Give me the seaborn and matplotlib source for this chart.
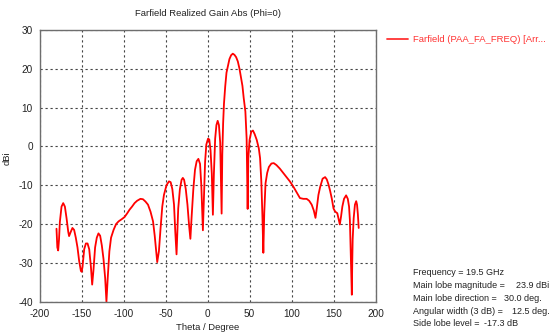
import matplotlib
matplotlib.use("Agg")
import matplotlib.pyplot as plt
import seaborn as sns
import pandas as pd

# Far-field realized gain cut at Phi = 0
theta_deg = [
    -180, -179, -178, -177, -176, -174, -172, -170, -168, -166, -165, -163, -161,
    -159, -157, -155, -153, -151, -150, -149, -147, -145, -143, -141, -139, -137.5,
    -136, -134, -132, -130, -128, -126, -124, -122, -120.5, -119, -117, -115, -112,
    -109, -106, -102, -99, -96, -93, -90, -87, -84, -80, -77, -74, -71, -68, -65,
    -63, -61, -60, -58, -56, -54, -52, -49, -46, -44, -42, -40, -38.5, -37, -36,
    -35, -33, -31, -29.5, -28, -26, -24, -22, -20.5, -19, -17, -15, -13, -11, -9,
    -7.5, -6.5, -5.6, -4.5, -3, -1.5, 0.5, 2, 3.5, 5, 6.3, 7.5, 9, 10.5, 12, 13.5,
    15, 16.7, 17.5, 18.5, 19.5, 21, 22.5, 24, 26, 28, 30, 32, 34, 36, 38, 40, 41.5,
    43, 45, 46.5, 47.7, 48.5, 50, 52, 54, 56, 58.5, 61, 62.5, 64, 65.3, 66.4, 67.5,
    69, 71, 73, 76, 78.8, 82, 86, 90, 94, 98, 102, 106, 110, 114, 118, 121, 124,
    126.5, 128.5, 130, 132, 134, 137, 140, 142, 144, 146, 148, 150, 152, 154.5, 156,
    157.5, 159, 160.5, 162.5, 165, 167, 168.5, 169.5, 170.3, 171.3, 171.8, 172.3,
    172.8, 174, 175.5, 177, 178, 179, 180,
]
gain_dbi = [
    -21.2, -26.0, -26.8, -24.0, -19.5, -15.5, -14.6, -15.5, -18.5, -22.0, -23.1, -22.0, -21.0,
    -21.5, -23.5, -26.0, -29.5, -32.0, -32.3, -31.0, -26.5, -25.0, -25.0, -26.5, -31.0, -35.6,
    -32.0, -26.0, -23.5, -22.4, -23.0, -25.5, -29.0, -34.0, -40.0, -34.0, -27.0, -23.5, -21.5,
    -20.0, -19.3, -18.7, -18.2, -17.3, -16.3, -15.5, -14.6, -14.0, -13.5, -13.6, -14.2, -15.0, -16.8, -19.3,
    -23.0, -27.5, -29.8, -27.0, -21.0, -15.5, -12.5, -10.0, -9.0, -9.2, -11.0, -15.0, -22.0, -27.8, -22.0,
    -16.0, -11.0, -8.6, -8.1, -8.6, -11.0, -15.0, -20.5, -23.8, -18.0, -11.0, -6.0, -3.8, -3.2, -4.5,
    -10.0, -16.0, -21.6, -14.0, -4.0, 0.5, 2.0, 1.8, -1.0, -7.0, -17.6, -7.0, 2.0, 5.5, 6.6, 5.5,
    1.0, -17.3, -2.0, 6.0, 11.0, 15.5, 19.0, 20.5, 22.5, 23.5, 23.9, 23.6, 23.0, 21.9, 20.0, 17.5, 15.6,
    12.5, 9.0, 2.0, -16.1, -3.0, 1.7, 3.8, 4.1, 3.2, 1.7, -0.5, -3.0, -9.0, -18.0, -27.4, -17.0,
    -9.5, -6.8, -5.3, -4.4, -4.3, -4.8, -5.7, -6.8, -7.9, -9.0, -10.3, -11.8, -13.3, -13.5, -13.5, -14.0, -15.0,
    -16.5, -18.4, -16.0, -12.5, -10.5, -8.3, -7.9, -8.5, -9.8, -11.5, -13.5, -16.0, -16.8, -17.2, -18.7,
    -20.1, -18.0, -15.5, -13.5, -12.6, -13.5, -15.5, -19.0, -25.7, -34.0, -38.2, -30.0,
    -24.0, -18.5, -15.0, -14.1, -15.0, -17.5, -21.0,
]

x_ticks = [-200, -150, -100, -50, 0, 50, 100, 150, 200]
y_ticks = [-40, -30, -20, -10, 0, 10, 20, 30]

series_label = "Farfield (PAA_FA_FREQ) [Arr..."
info_labels = ["Frequency = 19.5 GHz", "Main lobe magnitude =", "Main lobe direction =",
               "Angular width (3 dB) =", "Side lobe level ="]
info_values = ["", "23.9 dBi", "30.0 deg.", "12.5 deg.", "-17.3 dB"]

sns.set_style("white")
plt.rcParams["font.family"] = ["Liberation Sans", "DejaVu Sans"]
plt.rcParams["axes.unicode_minus"] = False

FS = 6.8
FS_INFO = 6.5
fig = plt.figure(figsize=(5.54, 3.34), dpi=100)
W, H = 554, 334
ax = fig.add_axes([39.7 / W, 1 - 301.7 / H, (375.5 - 39.7) / W, (301.7 - 30) / H])

df = pd.DataFrame({"theta": theta_deg, "gain": gain_dbi})
sns.lineplot(data=df, x="theta", y="gain", color="#ff0000", lw=1.3, ax=ax,
             estimator=None, sort=False, legend=False)

ax.set_xlim(-200, 200)
ax.set_ylim(-40, 30)
ax.set_xticks(x_ticks)
ax.set_yticks(y_ticks)
ax.tick_params(axis="both", labelsize=7.2, length=3, width=0.8, color="#555555",
               labelcolor="#222222", pad=2, direction="out")
ax.grid(True, ls=(0, (2, 2.5)), color="#444444", lw=0.8)
for sp in ax.spines.values():
    sp.set_color("#6e6e6e")
    sp.set_linewidth(1.0)

ax.set_xlabel("Theta / Degree", fontsize=FS, color="#222222", labelpad=3)
ax.set_ylabel("dBi", fontsize=FS, color="#222222")
ax.yaxis.set_label_coords(-0.085, 0.53)
ax.set_title("Farfield Realized Gain Abs (Phi=0)", fontsize=FS, color="#222222", pad=10)

# legend entry drawn outside the axes on the right
fig.add_artist(plt.Line2D([387 / W, 408 / W], [1 - 39 / H, 1 - 39 / H],
                          color="#ff3333", lw=1.3))
fig.text(413 / W, 1 - 39 / H, series_label, fontsize=FS, color="#ff3333",
         va="center", ha="left")

# summary box text
ys = [272.7, 285.5, 298.5, 311.5, 324.0]
vx = [None, 516, 504, 512, 484]
for lab, val, yy, xx in zip(info_labels, info_values, ys, vx):
    fig.text(413 / W, 1 - yy / H, lab, fontsize=FS_INFO, color="#222222", va="center", ha="left")
    if val:
        fig.text(xx / W, 1 - yy / H, val, fontsize=FS_INFO, color="#222222", va="center", ha="left")

fig.savefig("out.png", dpi=100)
